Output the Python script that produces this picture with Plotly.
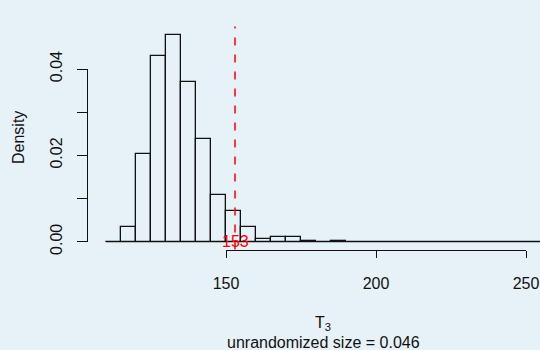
import plotly.graph_objects as go

# Histogram data (density), bins of width 5 from 110 to 255
bin_edges = list(range(110, 260, 5))
densities = [0.0, 0.0033, 0.0204, 0.0430, 0.0479, 0.0371, 0.0239, 0.0108, 0.0072,
             0.0033, 0.0007, 0.0010, 0.0010, 0.0002, 0.0, 0.0002, 0.0, 0.0, 0.0,
             0.0, 0.0, 0.0, 0.0, 0.0, 0.0, 0.0, 0.0, 0.0, 0.0]
observed = 153
x_ticks = [150, 200, 250]
y_ticks = [0.0, 0.02, 0.04]
y_ticktext = ["0.00", "0.02", "0.04"]
x_title = "T<sub>3</sub>"
subtitle = "unrandomized size = 0.046"
y_title = "Density"

W, H = 540, 350
bg = "rgb(231,241,248)"
font = "Liberation Sans, Arial, Helvetica, sans-serif"
ink = "#111111"

centers = [(bin_edges[i] + bin_edges[i + 1]) / 2 for i in range(len(densities))]

# pixel mapping: x 150->226px, 200->376px; y 0->241.7px, 0.04->69px
xpx_per = 3.0
x0px = 226.0
ypx_per = (241.7 - 69.0) / 0.04
y0px = 241.7
x_range = [150 - x0px / xpx_per, 150 + (W - x0px) / xpx_per]
y_range = [-(H - y0px) / ypx_per, y0px / ypx_per]

ymax = max(densities)
ylo, yhi = -0.04 * ymax, 1.04 * ymax
x_axis_px = y0px + (-ylo) * ypx_per
yaxis_left_px = 87.0

# dash pattern: short leading dash then regular 8/9 dashes
dash_pattern = "2px,9px," + ",".join(["8px,9px"] * 14)

fig = go.Figure()
fig.add_trace(go.Bar(
    x=centers, y=densities, width=5,
    marker=dict(color="rgba(0,0,0,0)", line=dict(color=ink, width=1.3)),
    xaxis="x", yaxis="y", showlegend=False, hoverinfo="skip"))
fig.add_trace(go.Scatter(
    x=[bin_edges[0], bin_edges[-1]], y=[0, 0], mode="lines",
    line=dict(color=ink, width=1.3), showlegend=False, hoverinfo="skip"))
fig.add_trace(go.Scatter(
    x=[observed, observed], y=[yhi, ylo], mode="lines",
    line=dict(color="red", width=1.5, dash=dash_pattern), showlegend=False,
    hoverinfo="skip"))
# dummy trace so the axis-only axes are drawn
fig.add_trace(go.Scatter(x=[None], y=[None], xaxis="x2", yaxis="y2",
                         showlegend=False, hoverinfo="skip"))

fig.update_layout(
    width=W, height=H,
    margin=dict(l=0, r=0, t=0, b=0, autoexpand=False),
    paper_bgcolor=bg, plot_bgcolor="rgba(0,0,0,0)",
    font=dict(family=font, size=16, color=ink),
    bargap=0,
    xaxis=dict(domain=[0, 1], range=x_range, visible=False, fixedrange=True,
               automargin=False),
    yaxis=dict(domain=[0, 1], range=y_range, visible=False, fixedrange=True,
               automargin=False),
    xaxis2=dict(domain=[x0px / W, (x0px + 100 * xpx_per) / W], range=[150, 250],
                anchor="free", position=(H - x_axis_px) / H, automargin=False,
                showline=True, linecolor=ink, linewidth=1.3,
                ticks="outside", ticklen=7, tickwidth=1.3, tickcolor=ink,
                tickvals=x_ticks, ticktext=[str(v) for v in x_ticks],
                ticklabelstandoff=12, showgrid=False, zeroline=False,
                tickfont=dict(size=16, family=font, color=ink)),
    yaxis2=dict(domain=[(H - y0px) / H, (H - (y0px - 0.04 * ypx_per)) / H],
                range=[0, 0.04], anchor="free", position=yaxis_left_px / W,
                automargin=False,
                showline=True, linecolor=ink, linewidth=1.3,
                ticks="outside", ticklen=10, tickwidth=1.3, tickcolor=ink,
                tickvals=y_ticks, ticktext=y_ticktext, tickangle=-90,
                minor=dict(dtick=0.01, tick0=0, ticks="outside", ticklen=10,
                           tickwidth=1.3, tickcolor=ink, showgrid=False),
                ticklabelstandoff=8, showgrid=False, zeroline=False,
                tickfont=dict(size=16, family=font, color=ink)),
    annotations=[
        dict(text=str(observed), x=observed, y=0, xref="x", yref="y",
             showarrow=False, font=dict(color="red", size=16, family=font),
             xanchor="center", yanchor="middle"),
        dict(text=x_title, x=323 / W, y=1 - 323 / H, xref="paper", yref="paper",
             showarrow=False, font=dict(size=16, family=font),
             xanchor="center", yanchor="middle"),
        dict(text=subtitle, x=323 / W, y=1 - 342 / H, xref="paper", yref="paper",
             showarrow=False, font=dict(size=16, family=font),
             xanchor="center", yanchor="middle"),
        dict(text=y_title, x=18 / W, y=1 - 138 / H, xref="paper", yref="paper",
             showarrow=False, textangle=-90, font=dict(size=16, family=font),
             xanchor="center", yanchor="middle"),
    ],
)

fig.write_html("out.html")
